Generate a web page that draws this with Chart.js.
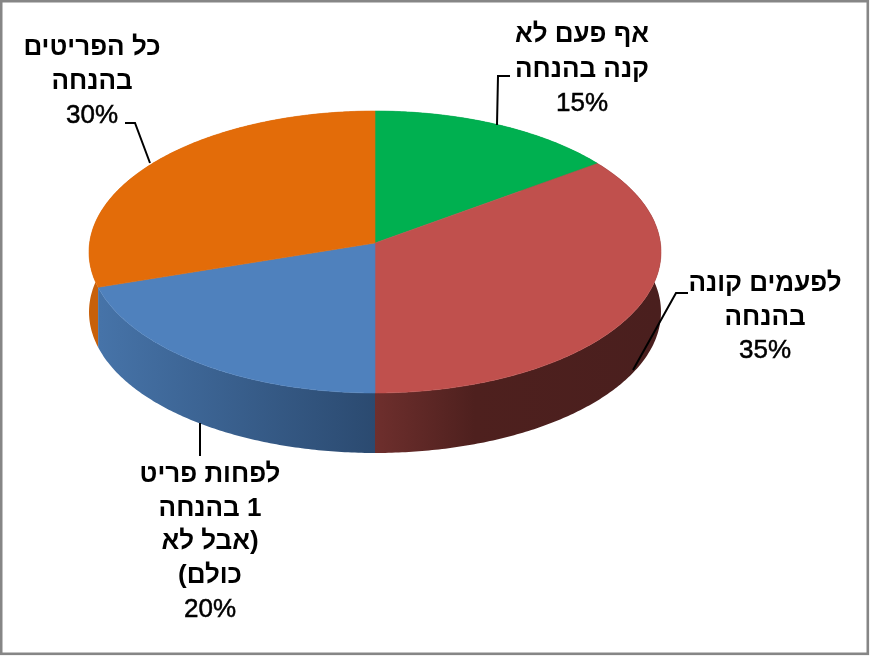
<!DOCTYPE html>
<html lang="he">
<head>
<meta charset="utf-8">
<title>Pie</title>
<style>html,body{margin:0;padding:0;background:#fff}canvas{display:block}</style>
<script src="https://cdn.jsdelivr.net/npm/chart.js@4/dist/chart.umd.min.js"></script>
</head>
<body>
<canvas id="c" width="870" height="656"></canvas>
<script>
const categories = [
  ["אף פעם לא", "קנה בהנחה"],
  ["לפעמים קונה", "בהנחה"],
  ["לפחות פריט", "1 בהנחה", "(אבל לא", "כולם)"],
  ["כל הפריטים", "בהנחה"]
];
const values = [15, 35, 20, 30];
const topColors = ["#00B050", "#C0504D", "#4F81BD", "#E36C09"];

/* layout of the labels and leader lines */
const labelCenters = [[582, 35, 34.5], [765, 284, 33.5], [210, 475, 33.6], [92, 48, 34]];
const leaders = [
  [[510, 76], [498, 76], [497, 125]],
  [[688, 293], [676, 293], [633, 370]],
  [[200, 423], [200, 456]],
  [[125, 123], [135, 123], [150, 163]]
];

/* perspective of the disc */
const SX = 285.4, SY = 140.4, PERSP = -0.0638, DEPTH = 60;

function project(arc, a) {
  const u = Math.cos(a), v = Math.sin(a), w = 1 + PERSP * v;
  return [arc.x + SX * u / w, arc.y + SY * v / w];
}
function sweep(arc) {
  const n = Math.max(8, Math.ceil((arc.endAngle - arc.startAngle) * 90)), pts = [];
  for (let i = 0; i <= n; i++) pts.push(project(arc, arc.startAngle + (arc.endAngle - arc.startAngle) * i / n));
  return pts;
}
function wallFill(ctx, idx) {
  if (idx === 2) {
    const g = ctx.createLinearGradient(100, 0, 375, 0);
    g.addColorStop(0, "#4673A8"); g.addColorStop(1, "#2B4A70");
    return g;
  }
  if (idx === 1) {
    const g = ctx.createLinearGradient(375, 0, 660, 0);
    g.addColorStop(0, "#6E2F2D"); g.addColorStop(0.35, "#4E201E"); g.addColorStop(1, "#4A1F1E");
    return g;
  }
  if (idx === 3) return "#C8600A";
  return "#007A38";
}

const pie3d = {
  id: "pie3d",
  beforeDraw(chart) {
    const ctx = chart.ctx;
    ctx.save();
    ctx.fillStyle = "#fff";
    ctx.fillRect(0, 0, 870, 656);
    ctx.strokeStyle = "#868686";
    ctx.lineWidth = 2.6;
    ctx.strokeRect(1.2, 1.2, 866.6, 652.6);
    ctx.restore();
  },
  beforeDatasetsDraw(chart) {
    const ctx = chart.ctx, arcs = chart.getDatasetMeta(0).data;
    ctx.save();
    [0, 3, 1, 2].forEach(i => {
      const pts = sweep(arcs[i]);
      ctx.beginPath();
      pts.forEach((p, k) => k ? ctx.lineTo(p[0], p[1]) : ctx.moveTo(p[0], p[1]));
      pts.slice().reverse().forEach(p => ctx.lineTo(p[0], p[1] + DEPTH));
      ctx.closePath();
      ctx.fillStyle = wallFill(ctx, i);
      ctx.fill();
    });
    arcs.forEach((arc, i) => {
      const pts = sweep(arc);
      ctx.beginPath();
      ctx.moveTo(arc.x, arc.y);
      pts.forEach(p => ctx.lineTo(p[0], p[1]));
      ctx.closePath();
      ctx.fillStyle = topColors[i];
      ctx.strokeStyle = topColors[i];
      ctx.lineWidth = 0.6;
      ctx.fill();
      ctx.stroke();
    });
    ctx.restore();
    return false;
  },
  afterDraw(chart) {
    const ctx = chart.ctx;
    ctx.save();
    ctx.strokeStyle = "#000";
    ctx.lineWidth = 2;
    leaders.forEach(l => {
      ctx.beginPath();
      l.forEach((p, k) => k ? ctx.lineTo(p[0], p[1]) : ctx.moveTo(p[0], p[1]));
      ctx.stroke();
    });
    ctx.fillStyle = "#000";
    ctx.textAlign = "center";
    ctx.textBaseline = "middle";
    categories.forEach((lines, i) => {
      const [cx, cy, lh] = labelCenters[i];
      ctx.direction = "rtl";
      ctx.font = "bold 26px 'Liberation Sans', Arial, sans-serif";
      lines.forEach((t, k) => ctx.fillText(t, cx, cy + k * lh));
      ctx.direction = "ltr";
      ctx.font = "26px 'Liberation Sans', Arial, sans-serif";
      const py = cy + lines.length * lh, pct = values[i] + "%";
      ctx.lineWidth = 0.5;
      ctx.fillText(pct, cx, py);
      ctx.strokeText(pct, cx, py);
    });
    ctx.restore();
  }
};

new Chart(document.getElementById("c"), {
  type: "pie",
  data: {
    labels: categories.map(l => l.join(" ")),
    datasets: [{ data: values, backgroundColor: topColors, borderWidth: 0 }]
  },
  options: {
    responsive: false,
    animation: false,
    layout: { padding: { left: 89, right: 209, top: 100, bottom: 270 } },
    plugins: { legend: { display: false }, tooltip: { enabled: false } }
  },
  plugins: [pie3d]
});
</script>
</body>
</html>
